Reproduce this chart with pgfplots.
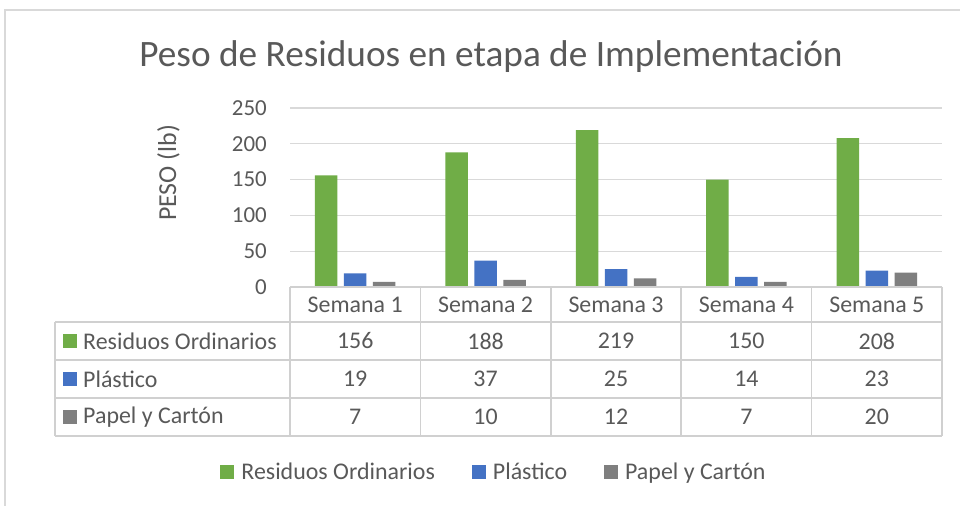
\documentclass[border=0pt]{standalone}
\usepackage{pgfplots}
\pgfplotsset{compat=1.18}
\usepackage{fontspec}
\setmainfont{Carlito}
\definecolor{cgreen}{HTML}{70AD47}
\definecolor{cblue}{HTML}{4472C4}
\definecolor{cgray}{HTML}{7F7F7F}
\definecolor{txt}{HTML}{595959}
\definecolor{gridc}{HTML}{D9D9D9}
\definecolor{tabc}{HTML}{D0D0D0}
\newcommand{\tf}{\fontsize{23}{27}\selectfont}
\newcommand{\tbf}{\fontsize{24}{28}\selectfont}
\begin{document}
\begin{tikzpicture}[x=1bp,y=1bp]
\useasboundingbox (0,0) rectangle (960,506);
\fill[white] (0,0) rectangle (960,506);
% chart border
\draw[gridc, line width=1.2bp] (5,0) -- (5,496) -- (960,496);
% title
\node[anchor=base, text=txt, font=\fontsize{37.4}{44}\selectfont, inner sep=0pt] at (491,439) {Peso de Residuos en etapa de Implementación};
% y label
\node[anchor=base, rotate=90, text=txt, font=\fontsize{26}{30}\selectfont, inner sep=0pt] at (176,333) {PESO (lb)};
\begin{axis}[
  at={(290bp,219bp)}, anchor=south west,
  scale only axis, width=652bp, height=179bp,
  xmin=-0.5, xmax=4.5, ymin=0, ymax=250,
  ytick={0,50,100,150,200,250},
  xtick=\empty,
  ymajorgrids, grid style={draw=gridc, line width=1.2bp},
  axis line style={draw=none},
  major tick length=0pt,
  ybar=6.5bp, bar width=22.5bp,
  clip=false,
  /pgf/number format/assume math mode=true,
  yticklabel style={font=\tf, text=txt, inner sep=0pt, anchor=east, xshift=-23bp},
  legend style={at={(0.3113,-1.0335)}, anchor=center, draw=none, fill=none,
    font=\tbf, text=txt, legend columns=-1,
    /tikz/every even column/.append style={column sep=37bp},
    /tikz/every odd column/.append style={column sep=7bp},
    nodes={inner sep=0pt}},
  legend image code/.code={\fill[#1] (0bp,-7bp) rectangle (14bp,7bp);},
]
\addplot[fill=cgreen, draw=none] coordinates {(0,156) (1,188) (2,219) (3,150) (4,208)};
\addplot[fill=cblue, draw=none] coordinates {(0,19) (1,37) (2,25) (3,14) (4,23)};
\addplot[fill=cgray, draw=none] coordinates {(0,7) (1,10) (2,12) (3,7) (4,20)};
\legend{Residuos Ordinarios, Plástico, Papel y Cartón}
\end{axis}
% data table lines
\begin{scope}[tabc, line width=1.5bp]
\draw (290,219) -- (942,219);
\draw (55,184) -- (942,184);
\draw (55,146) -- (942,146);
\draw (55,108) -- (942,108);
\draw (55,70) -- (942,70);
\draw (55,184) -- (55,70);
\foreach \x in {290,420.4,550.8,681.2,811.6,942} \draw (\x,219) -- (\x,70);
\end{scope}
% headers
\begin{scope}[every node/.style={text=txt, font=\tbf, inner sep=0pt, anchor=center}]
\node at (355.2,201) {Semana 1};
\node at (485.6,201) {Semana 2};
\node at (616,201) {Semana 3};
\node at (746.4,201) {Semana 4};
\node at (876.8,201) {Semana 5};
% row labels
\fill[cgreen] (63,158) rectangle (77,172);
\fill[cblue] (63,120) rectangle (77,134);
\fill[cgray] (63,82) rectangle (77,96);
\node[anchor=west] at (83,165) {Residuos Ordinarios};
\node[anchor=west] at (83,127) {Plástico};
\node[anchor=west] at (83,89) {Papel y Cartón};
% values
\node at (355.2,165) {156}; \node at (485.6,165) {188}; \node at (616,165) {219}; \node at (746.4,165) {150}; \node at (876.8,165) {208};
\node at (355.2,127) {19}; \node at (485.6,127) {37}; \node at (616,127) {25}; \node at (746.4,127) {14}; \node at (876.8,127) {23};
\node at (355.2,89) {7}; \node at (485.6,89) {10}; \node at (616,89) {12}; \node at (746.4,89) {7}; \node at (876.8,89) {20};
\end{scope}
\end{tikzpicture}
\end{document}
